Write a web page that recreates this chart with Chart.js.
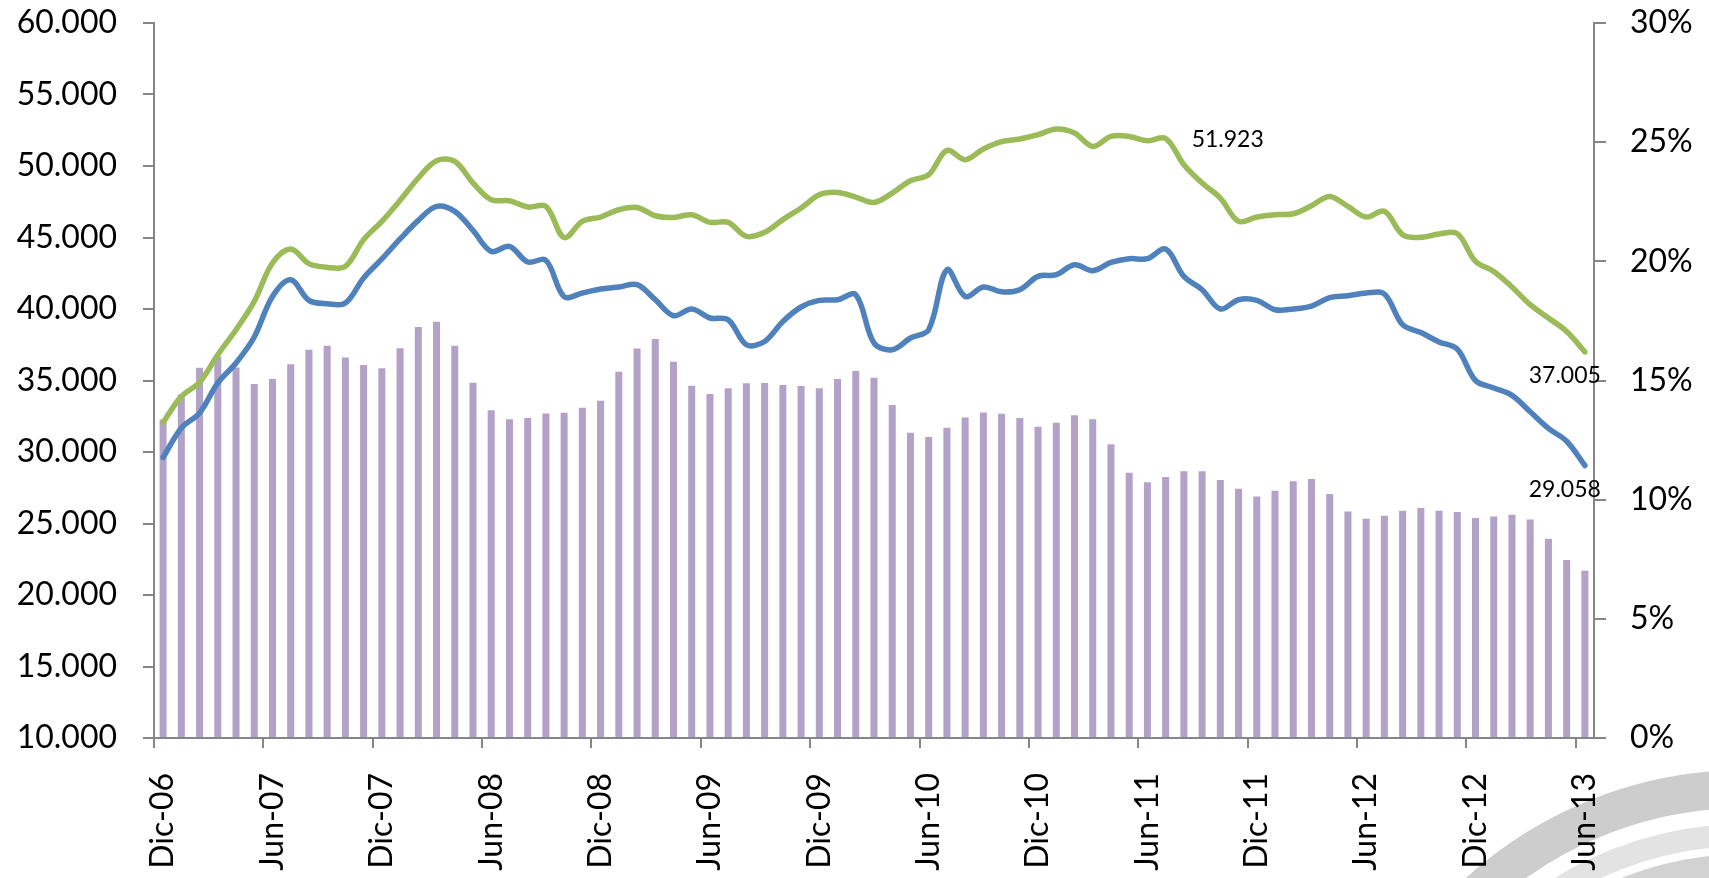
<!DOCTYPE html>
<html>
<head>
<meta charset="utf-8">
<script src="https://cdn.jsdelivr.net/npm/chart.js@4/dist/chart.umd.min.js"></script>
<style>
  html, body { margin: 0; padding: 0; background: #fff; }
  #wrap { width: 1709px; height: 878px; position: relative; }
</style>
</head>
<body>
<div id="wrap"><canvas id="chart"></canvas></div>
<script>
'use strict';

// ─── Data ─────────────────────────────────────────────────────
const months = [
  'Dic-06',
  'Ene-07', 'Feb-07', 'Mar-07', 'Abr-07', 'May-07', 'Jun-07', 'Jul-07', 'Ago-07', 'Sep-07', 'Oct-07', 'Nov-07', 'Dic-07',
  'Ene-08', 'Feb-08', 'Mar-08', 'Abr-08', 'May-08', 'Jun-08', 'Jul-08', 'Ago-08', 'Sep-08', 'Oct-08', 'Nov-08', 'Dic-08',
  'Ene-09', 'Feb-09', 'Mar-09', 'Abr-09', 'May-09', 'Jun-09', 'Jul-09', 'Ago-09', 'Sep-09', 'Oct-09', 'Nov-09', 'Dic-09',
  'Ene-10', 'Feb-10', 'Mar-10', 'Abr-10', 'May-10', 'Jun-10', 'Jul-10', 'Ago-10', 'Sep-10', 'Oct-10', 'Nov-10', 'Dic-10',
  'Ene-11', 'Feb-11', 'Mar-11', 'Abr-11', 'May-11', 'Jun-11', 'Jul-11', 'Ago-11', 'Sep-11', 'Oct-11', 'Nov-11', 'Dic-11',
  'Ene-12', 'Feb-12', 'Mar-12', 'Abr-12', 'May-12', 'Jun-12', 'Jul-12', 'Ago-12', 'Sep-12', 'Oct-12', 'Nov-12', 'Dic-12',
  'Ene-13', 'Feb-13', 'Mar-13', 'Abr-13', 'May-13', 'Jun-13'
];

// green line (left axis)
const seriesGreen = [
  32070, 33890, 34870, 36800, 38550, 40530, 43220, 44200, 43170, 42910, 42980, 44850, 46130,
  47600, 49160, 50370, 50320, 48810, 47640, 47570, 47130, 47180, 45000, 46130, 46430,
  46940, 47100, 46520, 46400, 46590, 46060, 46060, 45080, 45360, 46250, 47060, 47990,
  48150, 47830, 47450, 48110, 48970, 49390, 51090, 50440, 51190, 51700, 51890, 52190,
  52590, 52310, 51370, 52070, 52070, 51770, 51923, 50090, 48810, 47760, 46130, 46430,
  46590, 46660, 47220, 47870, 47170, 46430, 46830, 45200, 45010, 45250, 45270, 43330,
  42630, 41540, 40300, 39370, 38430, 37005
];

// blue line (left axis)
const seriesBlue = [
  29620, 31680, 32730, 34830, 36220, 38040, 40880, 42050, 40600, 40370, 40420, 42170, 43500,
  44900, 46200, 47180, 46830, 45500, 44030, 44380, 43290, 43400, 40860, 41120, 41400,
  41540, 41700, 40650, 39530, 40000, 39370, 39250, 37500, 37730, 39130, 40140, 40600,
  40650, 41000, 37620, 37150, 37970, 38550, 42750, 40880, 41540, 41200, 41350, 42280,
  42400, 43100, 42680, 43260, 43520, 43520, 44190, 42280, 41350, 40000, 40650, 40600,
  39950, 40000, 40200, 40800, 40930, 41120, 41050, 38900, 38350, 37700, 37200, 35000,
  34480, 33960, 32810, 31650, 30750, 29058
];

// bars (right axis, %)
const seriesPct = [
  13.36, 14.41, 15.54, 16.01, 15.55, 14.85, 15.06, 15.68, 16.29, 16.46, 15.96, 15.65, 15.51,
  16.35, 17.25, 17.47, 16.46, 14.91, 13.75, 13.37, 13.43, 13.62, 13.65, 13.86, 14.15,
  15.37, 16.34, 16.74, 15.79, 14.78, 14.43, 14.67, 14.88, 14.90, 14.81, 14.77, 14.67,
  15.06, 15.40, 15.12, 13.97, 12.81, 12.63, 13.02, 13.45, 13.66, 13.60, 13.43, 13.06,
  13.23, 13.54, 13.37, 12.32, 11.13, 10.73, 10.95, 11.19, 11.19, 10.83, 10.46, 10.13,
  10.37, 10.77, 10.87, 10.24, 9.50, 9.20, 9.33, 9.53, 9.65, 9.53, 9.48, 9.23,
  9.29, 9.37, 9.17, 8.36, 7.47, 7.02
];

// which points carry a value label
const labelledPoints = [
  { dataset: 0, index: 55 },
  { dataset: 0, index: 78 },
  { dataset: 1, index: 78 }
];

const AXIS_GREY = '#868686';
const FONT = 'Lato';

const fmtThousands = v => (v / 1000).toFixed(3);

// ─── Plugins ──────────────────────────────────────────────────
// grey arcs of the logo in the lower right corner
const watermark = {
  id: 'watermark',
  beforeDraw(chart) {
    const c = chart.ctx;
    const cx = 1745, cy = 1185;
    const bands = [
      { r: 396, w: 38, color: '#cdcdcd' },
      { r: 350, w: 22, color: '#e3e3e3' },
      { r: 318, w: 26, color: '#d2d2d2' }
    ];
    c.save();
    bands.forEach(b => {
      c.beginPath();
      c.arc(cx, cy, b.r, Math.PI, 2 * Math.PI);
      c.lineWidth = b.w;
      c.strokeStyle = b.color;
      c.stroke();
    });
    c.restore();
  }
};

// value labels next to chosen points
const pointLabels = {
  id: 'pointLabels',
  afterDatasetsDraw(chart) {
    const c = chart.ctx;
    c.save();
    c.font = `23px ${FONT}`;
    c.fillStyle = '#000';
    c.textBaseline = 'middle';
    labelledPoints.forEach(p => {
      const el = chart.getDatasetMeta(p.dataset).data[p.index];
      const v = chart.data.datasets[p.dataset].data[p.index];
      const last = p.index === chart.data.labels.length - 1;
      if (last) {
        c.textAlign = 'right';
        c.fillText(fmtThousands(v), el.x + 16, el.y + 24);
      } else {
        c.textAlign = 'left';
        c.fillText(fmtThousands(v), el.x + 26, el.y + 1);
      }
    });
    c.restore();
  }
};

// fixed axis sizes so the plot area sits where the original has it
const fixVertical = w => s => {
  s.width = w;
  s.paddingTop = 0;
  s.paddingBottom = 0;
};

// ─── Chart ────────────────────────────────────────────────────
Chart.defaults.font.family = FONT;
Chart.defaults.font.size = 32;
Chart.defaults.color = '#000';

new Chart(document.getElementById('chart'), {
  type: 'bar',
  data: {
    labels: months,
    datasets: [
      {
        type: 'line',
        data: seriesGreen,
        yAxisID: 'y',
        borderColor: '#9BBB59',
        borderWidth: 5.5,
        borderCapStyle: 'round',
        pointRadius: 0,
        tension: 0.35,
        order: 1
      },
      {
        type: 'line',
        data: seriesBlue,
        yAxisID: 'y',
        borderColor: '#4F81BD',
        borderWidth: 5.5,
        borderCapStyle: 'round',
        pointRadius: 0,
        tension: 0.35,
        order: 2
      },
      {
        type: 'bar',
        data: seriesPct,
        yAxisID: 'y1',
        backgroundColor: '#B3A2C7',
        categoryPercentage: 1,
        barPercentage: 0.385,
        order: 3
      }
    ]
  },
  options: {
    responsive: true,
    maintainAspectRatio: false,
    animation: false,
    layout: { padding: { top: 23 } },
    plugins: {
      legend: { display: false },
      tooltip: { enabled: false }
    },
    scales: {
      x: {
        offset: true,
        grid: {
          offset: true,
          drawOnChartArea: false,
          tickLength: 10,
          lineWidth: 2,
          color: ctx => (ctx.index % 6 === 0 ? AXIS_GREY : 'rgba(0,0,0,0)')
        },
        border: { display: true, color: AXIS_GREY, width: 2 },
        ticks: {
          autoSkip: false,
          maxRotation: 90,
          minRotation: 90,
          padding: 25,
          callback: (v, i) => (i % 6 === 0 ? months[i] : '')
        },
        afterFit: s => {
          s.height = 140;
          s.paddingLeft = 0;
          s.paddingRight = 0;
        }
      },
      y: {
        position: 'left',
        min: 10000,
        max: 60000,
        ticks: { stepSize: 5000, padding: 26, callback: v => fmtThousands(v) },
        grid: { drawOnChartArea: false, tickLength: 11, lineWidth: 2, color: AXIS_GREY },
        border: { display: true, color: AXIS_GREY, width: 2 },
        afterFit: fixVertical(154)
      },
      y1: {
        position: 'right',
        min: 0,
        max: 30,
        ticks: { stepSize: 5, padding: 24, callback: v => v + '%' },
        grid: { drawOnChartArea: false, tickLength: 12, lineWidth: 2, color: AXIS_GREY },
        border: { display: true, color: AXIS_GREY, width: 2 },
        afterFit: fixVertical(115)
      }
    }
  },
  plugins: [watermark, pointLabels]
});
</script>
</body>
</html>
